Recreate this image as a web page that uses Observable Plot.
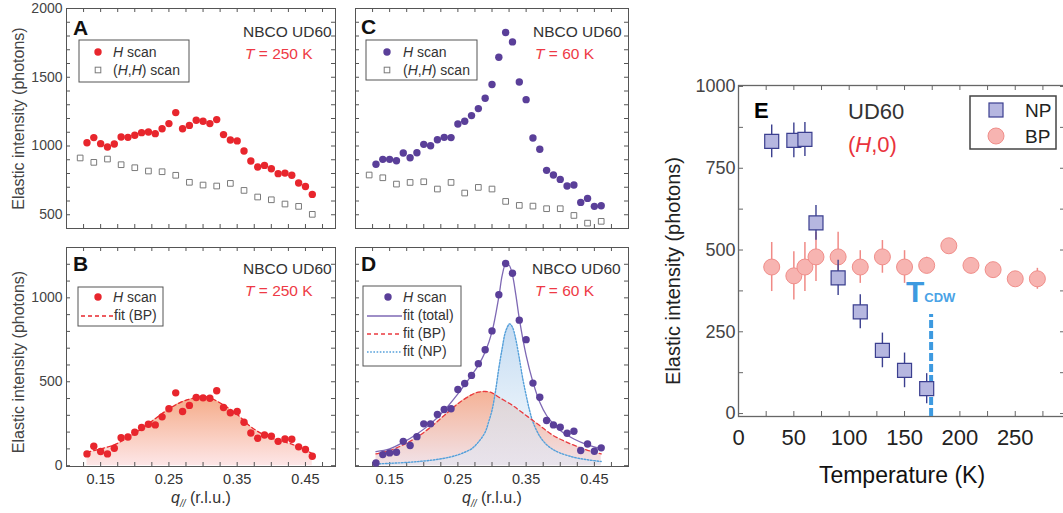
<!DOCTYPE html>
<html><head><meta charset="utf-8">
<script src="https://cdn.jsdelivr.net/npm/d3@7"></script>
<script src="https://cdn.jsdelivr.net/npm/@observablehq/plot@0.6"></script>
<style>
body{margin:0;background:#fff;}
#root{position:relative;width:1063px;height:513px;overflow:hidden;background:#fff}
#root svg{position:absolute}
</style></head><body><div id="root"></div>
<script>
// ---------------- data ----------------
const qH = [0.13,0.14,0.15,0.16,0.17,0.18,0.19,0.20,0.21,0.22,0.23,0.24,0.25,0.26,0.27,0.28,0.29,0.30,0.31,0.32,0.33,0.34,0.35,0.36,0.37,0.38,0.39,0.40,0.41,0.42,0.43,0.44,0.45,0.46];
const qHH = [0.12,0.14,0.16,0.18,0.20,0.22,0.24,0.26,0.28,0.30,0.32,0.34,0.36,0.38,0.40,0.42,0.44,0.46];
// Panel A (T = 250 K)
const aHScan = [1024,1061,1017,993,1015,1066,1063,1078,1097,1102,1090,1126,1163,1243,1126,1150,1187,1180,1163,1192,1083,1044,1037,964,891,847,859,835,799,803,787,731,706,648];
const aHHScan = [913,881,905,864,842,818,813,787,736,716,709,728,677,629,609,578,561,503];
// Panel C (T = 60 K)
const cHScan = [867,903,903,893,949,915,951,1012,1002,1046,1063,1061,1160,1180,1221,1272,1347,1447,1646,1825,1757,1466,1337,1058,976,823,789,757,709,716,590,619,561,566];
const cHHScan = [789,769,723,735,740,687,735,658,699,687,597,568,563,544,544,495,439,452];
// Panel B (background-subtracted, 250 K)
const bHScan = [70,116,84,70,104,167,171,199,227,247,243,291,339,434,323,359,406,404,402,446,347,315,323,259,195,163,183,175,145,159,157,112,96,56];
const bFitQ = [0.13,0.15,0.17,0.19,0.21,0.23,0.25,0.27,0.29,0.30,0.31,0.33,0.35,0.37,0.39,0.41,0.43,0.45,0.46];
const bFitBP = [80,100,124,168,220,280,338,382,406,412,404,362,305,232,182,152,128,92,72];
// Panel D (background-subtracted, 60 K)
const dHScan = [16,66,76,80,145,120,173,249,249,305,335,339,454,490,538,608,691,803,1018,1205,1147,867,751,492,408,269,243,229,193,205,90,129,86,106];
const dTotQ = [0.13,0.15,0.17,0.19,0.21,0.23,0.25,0.27,0.28,0.29,0.30,0.31,0.315,0.32,0.325,0.33,0.335,0.34,0.35,0.36,0.37,0.38,0.39,0.40,0.42,0.44,0.46];
const dFitTotal = [84,100,139,189,249,329,428,538,598,677,797,1006,1135,1200,1195,1135,1016,876,657,498,378,299,249,209,159,124,100];
const dBPQ = [0.13,0.15,0.17,0.19,0.21,0.23,0.25,0.27,0.28,0.29,0.30,0.31,0.33,0.35,0.37,0.39,0.41,0.43,0.45,0.46];
const dFitBP = [70,90,124,169,229,299,369,422,438,442,434,408,359,299,239,179,139,106,80,70];
const dNPQ = [0.13,0.15,0.17,0.19,0.21,0.23,0.25,0.26,0.27,0.28,0.29,0.295,0.30,0.305,0.31,0.315,0.32,0.326,0.33,0.335,0.34,0.345,0.35,0.355,0.36,0.37,0.38,0.39,0.40,0.42,0.44,0.46];
const dFitNP = [10,14,18,24,32,44,64,80,100,140,200,260,330,440,580,700,800,845,825,750,640,520,420,330,260,175,125,95,75,50,35,25];
// Panel E (temperature dependence)
const eTempNP = [30,50,60,70,90,110,130,150,170];
const eNP = [832,835,838,583,415,311,193,132,76];
const eNPErr = [50,53,52,53,54,52,53,53,46];
const eTempBP = [30,50,60,70,90,110,130,150,170,190,210,230,250,270];
const eBP = [448,421,448,479,479,448,479,448,453,513,453,440,412,412];
const eBPErr = [75,74,75,75,75,50,50,50,25,15,15,15,15,32];
const tCDW = [174];
const xTickLabelsQ = [0.15,0.25,0.35,0.45];

// ---------------- helpers ----------------
const FONT = "'Liberation Sans', Arial, Helvetica, sans-serif";
const RED = "#e8262d", PURPLE = "#5a3f99", RED_T = "#ee3a45";
const zip = (xs, ys, k1 = "x", k2 = "y") => xs.map((x, i) => ({[k1]: x, [k2]: ys[i]}));
const root = document.getElementById("root");
const SVGNS = "http://www.w3.org/2000/svg";

function frameTicks(xt, yt, iw, ih, len, stroke) {
  return [
    Plot.tickX(xt, {x: d => d, insetTop: ih - len, stroke}),
    Plot.tickX(xt, {x: d => d, insetBottom: ih - len, stroke}),
    Plot.tickY(yt, {y: d => d, insetRight: iw - len, stroke}),
    Plot.tickY(yt, {y: d => d, insetLeft: iw - len, stroke})
  ];
}
function place(svg, left, top) {
  svg.style.left = left + "px"; svg.style.top = top + "px";
  root.appendChild(svg);
  return svg;
}
function txt(svg, x, y, parts, o = {}) {
  const t = d3.select(svg).append("text").attr("x", x).attr("y", y)
    .attr("font-family", FONT).attr("font-size", o.size || 14)
    .attr("fill", o.fill || "#333").attr("text-anchor", o.anchor || "start");
  if (o.weight) t.attr("font-weight", o.weight);
  for (const p of parts) {
    if (typeof p === "string") t.append("tspan").text(p);
    else {
      const s = t.append("tspan").text(p.t);
      if (p.i) s.attr("font-style", "italic");
      if (p.size) s.attr("font-size", p.size);
      if (p.dy) s.attr("dy", p.dy);
      if (p.fill) s.attr("fill", p.fill);
    }
  }
  return t;
}
function rich(svg, map) {
  svg.querySelectorAll("text").forEach(t => {
    const key = t.textContent;
    if (!map[key]) return;
    t.textContent = "";
    for (const p of map[key]) {
      const s = document.createElementNS(SVGNS, "tspan");
      s.textContent = p.t;
      if (p.i) s.setAttribute("font-style", "italic");
      if (p.size) s.setAttribute("font-size", p.size);
      if (p.dy) s.setAttribute("dy", p.dy);
      t.appendChild(s);
    }
  });
}
function gradient(svg, id, stops) {
  let defs = d3.select(svg).select("defs");
  if (defs.empty()) defs = d3.select(svg).insert("defs", ":first-child");
  const g = defs.append("linearGradient").attr("id", id)
    .attr("x1", 0).attr("y1", 0).attr("x2", 0).attr("y2", 1);
  for (const [off, c] of stops) g.append("stop").attr("offset", off).attr("stop-color", c);
}
function box(svg, x0, y0, x1, y1, stroke = "#555", sw = 1) {
  d3.select(svg).append("rect").attr("x", x0).attr("y", y0).attr("width", x1 - x0).attr("height", y1 - y0)
    .attr("fill", "white").attr("stroke", stroke).attr("stroke-width", sw);
}
function seg(svg, x0, x1, y, stroke, dash, sw = 1.3) {
  d3.select(svg).append("line").attr("x1", x0).attr("x2", x1).attr("y1", y).attr("y2", y)
    .attr("stroke", stroke).attr("stroke-width", sw).attr("stroke-dasharray", dash || null);
}
function dotL(svg, x, y, r, fill) {
  d3.select(svg).append("circle").attr("cx", x).attr("cy", y).attr("r", r).attr("fill", fill);
}
function sqL(svg, x, y, s, fill, stroke, sw = 1) {
  d3.select(svg).append("rect").attr("x", x - s / 2).attr("y", y - s / 2).attr("width", s).attr("height", s)
    .attr("fill", fill).attr("stroke", stroke).attr("stroke-width", sw);
}
const qLabel = {"q// (r.l.u.)": [{t: "q", i: true}, {t: "//", i: true, size: "10px", dy: "4"}, {t: " (r.l.u.)", dy: "-4"}]};
const baseStyle = {fontFamily: FONT, color: "#333", background: "transparent", overflow: "visible"};

const qTicks = d3.range(0.1, 0.5001, 0.025).map(d => +d.toFixed(3));
const yTicksAC = d3.range(400, 2001, 100);
const yTicksBD = d3.range(0, 1301, 100);

// ---------------- Panel A ----------------
{
  const iw = 269, ih = 220;
  const svg = Plot.plot({
    width: 340, height: 232, marginLeft: 66, marginRight: 5, marginTop: 8, marginBottom: 4,
    x: {domain: [0.1, 0.494], axis: null}, y: {domain: [400, 2000], axis: null},
    style: baseStyle,
    marks: [
      ...frameTicks(qTicks.filter(d => d <= 0.494), yTicksAC, iw, ih, 4, "#555"),
      Plot.frame({stroke: "#555"}),
      Plot.axisY({ticks: [500, 1000, 1500, 2000], tickSize: 0, tickPadding: 4, tickFormat: "d", label: null, fontSize: 14, fill: "#444"}),
      Plot.text(["Elastic intensity (photons)"], {frameAnchor: "left", textAnchor: "middle", rotate: -90, dx: -48, fontSize: 16, fill: "#444"}),
      Plot.dot(zip(qHH, aHHScan), {x: "x", y: "y", symbol: "square", r: 3.2, stroke: "#7a7a7a", strokeWidth: 1, fill: "white"}),
      Plot.dot(zip(qH, aHScan), {x: "x", y: "y", r: 3.7, fill: RED, stroke: "none"})
    ]
  });
  place(svg, 0, 0);
  txt(svg, 73, 35, ["A"], {size: 21, weight: "bold", fill: "#111"});
  txt(svg, 243, 37, ["NBCO UD60"], {size: 15.5});
  txt(svg, 245, 59, [{t: "T", i: true}, " = 250 K"], {size: 15.5, fill: RED_T});
  box(svg, 79, 40, 189, 82);
  dotL(svg, 98, 52, 3.7, RED);
  txt(svg, 113, 57, [{t: "H", i: true}, " scan"], {size: 14});
  sqL(svg, 98, 70, 5.6, "white", "#7a7a7a");
  txt(svg, 113, 75, ["(", {t: "H", i: true}, ",", {t: "H", i: true}, ") scan"], {size: 14});
}

// ---------------- Panel B ----------------
{
  const iw = 269, ih = 219;
  const svg = Plot.plot({
    width: 340, height: 273, marginLeft: 66, marginRight: 5, marginTop: 7, marginBottom: 47,
    x: {domain: [0.1, 0.494], axis: null}, y: {domain: [-5, 1300], axis: null},
    style: baseStyle,
    marks: [
      Plot.areaY(zip(bFitQ, bFitBP), {x: "x", y: "y", fill: "url(#gradB)", curve: "catmull-rom"}),
      ...frameTicks(qTicks.filter(d => d <= 0.494), yTicksBD, iw, ih, 4, "#555"),
      Plot.frame({stroke: "#555"}),
      Plot.axisY({ticks: [0, 500, 1000], tickSize: 0, tickPadding: 4, tickFormat: "d", label: null, fontSize: 14, fill: "#444"}),
      Plot.axisX({ticks: xTickLabelsQ, tickSize: 0, tickPadding: 7, tickFormat: ".2f", label: null, fontSize: 14.5, fill: "#333"}),
      Plot.text(["Elastic intensity (photons)"], {frameAnchor: "left", textAnchor: "middle", rotate: -90, dx: -48, dy: 5, fontSize: 16, fill: "#444"}),
      Plot.text(["q// (r.l.u.)"], {frameAnchor: "bottom", dy: 36, fontSize: 16, fill: "#333"}),
      Plot.line(zip(bFitQ, bFitBP), {x: "x", y: "y", stroke: RED, strokeWidth: 1.3, strokeDasharray: "4,3", curve: "catmull-rom"}),
      Plot.dot(zip(qH, bHScan), {x: "x", y: "y", r: 3.7, fill: RED, stroke: "none"})
    ]
  });
  gradient(svg, "gradB", [["0%", "#f5ab88"], ["100%", "#fde6e7"]]);
  rich(svg, qLabel);
  place(svg, 0, 240);
  txt(svg, 73, 31, ["B"], {size: 21, weight: "bold", fill: "#111"});
  txt(svg, 243, 34, ["NBCO UD60"], {size: 15.5});
  txt(svg, 245, 56, [{t: "T", i: true}, " = 250 K"], {size: 15.5, fill: RED_T});
  box(svg, 78, 47, 163, 86);
  dotL(svg, 98, 57, 3.7, RED);
  txt(svg, 113, 62, [{t: "H", i: true}, " scan"], {size: 14});
  seg(svg, 81, 113, 76, RED, "4,3");
  txt(svg, 114, 80, ["fit (BP)"], {size: 14});
}

// ---------------- Panel C ----------------
{
  const iw = 273, ih = 220;
  const svg = Plot.plot({
    width: 300, height: 232, marginLeft: 15, marginRight: 12, marginTop: 8, marginBottom: 4,
    x: {domain: [0.1, 0.5], axis: null}, y: {domain: [400, 2000], axis: null},
    style: baseStyle,
    marks: [
      ...frameTicks(qTicks, yTicksAC, iw, ih, 4, "#555"),
      Plot.frame({stroke: "#555"}),
      Plot.dot(zip(qHH, cHHScan), {x: "x", y: "y", symbol: "square", r: 3.2, stroke: "#7a7a7a", strokeWidth: 1, fill: "white"}),
      Plot.dot(zip(qH, cHScan), {x: "x", y: "y", r: 3.7, fill: PURPLE, stroke: "none"})
    ]
  });
  place(svg, 340, 0);
  txt(svg, 21, 34, ["C"], {size: 21, weight: "bold", fill: "#111"});
  txt(svg, 193, 37, ["NBCO UD60"], {size: 15.5});
  txt(svg, 195, 59, [{t: "T", i: true}, " = 60 K"], {size: 15.5, fill: RED_T});
  box(svg, 26, 40, 137, 80);
  dotL(svg, 47, 52, 3.7, PURPLE);
  txt(svg, 63, 57, [{t: "H", i: true}, " scan"], {size: 14});
  sqL(svg, 47, 70, 5.6, "white", "#7a7a7a");
  txt(svg, 63, 75, ["(", {t: "H", i: true}, ",", {t: "H", i: true}, ") scan"], {size: 14});
}

// ---------------- Panel D ----------------
{
  const iw = 273, ih = 219;
  const svg = Plot.plot({
    width: 300, height: 273, marginLeft: 15, marginRight: 12, marginTop: 7, marginBottom: 47,
    x: {domain: [0.1, 0.5], axis: null}, y: {domain: [-5, 1300], axis: null},
    style: baseStyle,
    marks: [
      Plot.areaY(zip(dBPQ, dFitBP), {x: "x", y: "y", fill: "url(#gradDBP)", curve: "catmull-rom"}),
      Plot.areaY(zip(dNPQ, dFitNP), {x: "x", y: "y", fill: "url(#gradDNP)", fillOpacity: 0.65, curve: "catmull-rom"}),
      ...frameTicks(qTicks, yTicksBD, iw, ih, 4, "#555"),
      Plot.frame({stroke: "#555"}),
      Plot.axisX({ticks: xTickLabelsQ, tickSize: 0, tickPadding: 7, tickFormat: ".2f", label: null, fontSize: 14.5, fill: "#333"}),
      Plot.text(["q// (r.l.u.)"], {frameAnchor: "bottom", dy: 36, fontSize: 16, fill: "#333"}),
      Plot.line(zip(dNPQ, dFitNP), {x: "x", y: "y", stroke: "#55a0da", strokeWidth: 1.4, strokeDasharray: "1.6,1.6", curve: "catmull-rom"}),
      Plot.line(zip(dBPQ, dFitBP), {x: "x", y: "y", stroke: "#ea3a3f", strokeWidth: 1.3, strokeDasharray: "4,3", curve: "catmull-rom"}),
      Plot.line(zip(dTotQ, dFitTotal), {x: "x", y: "y", stroke: "#7e68b4", strokeWidth: 1.3, curve: "catmull-rom"}),
      Plot.dot(zip(qH, dHScan), {x: "x", y: "y", r: 3.7, fill: PURPLE, stroke: "none"})
    ]
  });
  gradient(svg, "gradDBP", [["0%", "#f5b296"], ["100%", "#f1e2e8"]]);
  gradient(svg, "gradDNP", [["0%", "#a6c9ec"], ["60%", "#d6e7f6"], ["100%", "#e4e4ee"]]);
  rich(svg, qLabel);
  place(svg, 340, 240);
  txt(svg, 21, 31, ["D"], {size: 21, weight: "bold", fill: "#111"});
  txt(svg, 192, 34, ["NBCO UD60"], {size: 15.5});
  txt(svg, 195, 56, [{t: "T", i: true}, " = 60 K"], {size: 15.5, fill: RED_T});
  box(svg, 23, 46, 121, 126);
  dotL(svg, 48, 57, 3.7, PURPLE);
  txt(svg, 63, 62, [{t: "H", i: true}, " scan"], {size: 14});
  seg(svg, 27, 62, 76, "#7e68b4", null);
  txt(svg, 63, 80, ["fit (total)"], {size: 14});
  seg(svg, 27, 62, 94, "#ea3a3f", "4,3");
  txt(svg, 63, 98, ["fit (BP)"], {size: 14});
  seg(svg, 27, 62, 112, "#55a0da", "1.6,1.6", 1.4);
  txt(svg, 63, 116, ["fit (NP)"], {size: 14});
}

// ---------------- Panel E ----------------
{
  const iw = 327, ih = 331;
  const npData = eTempNP.map((t, i) => ({T: t, v: eNP[i], e: eNPErr[i]}));
  const bpData = eTempBP.map((t, i) => ({T: t, v: eBP[i], e: eBPErr[i]}));
  const svg = Plot.plot({
    width: 416, height: 453, marginLeft: 88, marginRight: 1, marginTop: 25, marginBottom: 97,
    x: {domain: [0, 295.4], axis: null}, y: {domain: [-9, 1003], axis: null},
    style: baseStyle,
    marks: [
      ...frameTicks(d3.range(0, 291, 25), d3.range(0, 1001, 125), iw, ih, 5, "#666"),
      Plot.frame({stroke: "#666", strokeWidth: 1.3}),
      Plot.axisX({ticks: [0, 50, 100, 150, 200, 250], tickSize: 0, tickPadding: 13, tickFormat: "d", label: null, fontSize: 22, fill: "#222"}),
      Plot.axisY({ticks: [0, 250, 500, 750, 1000], tickSize: 0, tickPadding: 3, tickFormat: "d", label: null, fontSize: 18, fill: "#444"}),
      Plot.text(["Temperature (K)"], {frameAnchor: "bottom", dy: 66, fontSize: 23, fill: "#111"}),
      Plot.text(["Elastic intensity (photons)"], {frameAnchor: "left", textAnchor: "middle", rotate: -90, dx: -65, dy: 20, fontSize: 20, fill: "#222"}),
      Plot.ruleX(tCDW, {x: d => d, y1: -9, y2: 303, stroke: "#3d9ae0", strokeWidth: 4, strokeDasharray: "8,3"}),
      Plot.ruleX(bpData, {x: "T", y1: d => d.v - d.e, y2: d => d.v + d.e, stroke: "#f08a86", strokeWidth: 1.5}),
      Plot.dot(bpData, {x: "T", y: "v", r: 8, fill: "#f7b4b1", stroke: "#f08e8a", strokeWidth: 1}),
      Plot.ruleX(npData, {x: "T", y1: d => d.v - d.e, y2: d => d.v + d.e, stroke: "#3b3f8f", strokeWidth: 1.4}),
      Plot.dot(npData, {x: "T", y: "v", symbol: "square", r: 7.9, fill: "#b6b7e0", stroke: "#3b3f8f", strokeWidth: 1.2})
    ]
  });
  place(svg, 650, 60);
  txt(svg, 104, 58, ["E"], {size: 22, weight: "bold", fill: "#000"});
  txt(svg, 198, 59, ["UD60"], {size: 22, fill: "#333"});
  txt(svg, 198, 92, ["(", {t: "H", i: true}, ",0)"], {size: 22, fill: "#e9323c"});
  box(svg, 320, 36, 406, 89, "#444", 1.5);
  sqL(svg, 346, 50, 14, "#b6b7e0", "#3b3f8f", 1.2);
  txt(svg, 375, 57, ["NP"], {size: 19, fill: "#222"});
  d3.select(svg).append("circle").attr("cx", 346).attr("cy", 76).attr("r", 8)
    .attr("fill", "#f7b4b1").attr("stroke", "#f08e8a");
  txt(svg, 375, 83, ["BP"], {size: 19, fill: "#222"});
  txt(svg, 256, 242, ["T", {t: "CDW", size: 13, fill: "#4aa3e6"}], {size: 30, weight: "bold", fill: "#3d9ae0"});
}
</script></body></html>
